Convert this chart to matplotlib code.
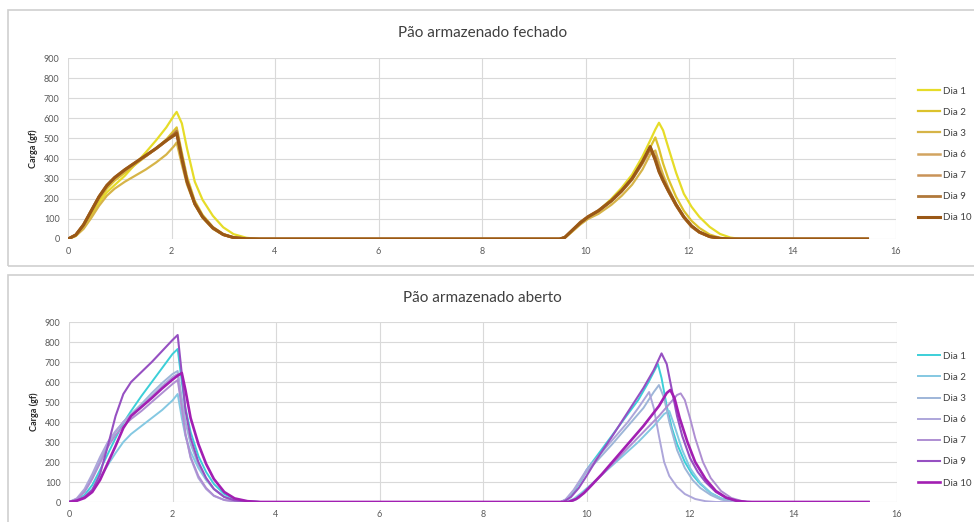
import matplotlib
matplotlib.use("Agg")
import matplotlib.pyplot as plt
from matplotlib.patches import Rectangle

plt.rcParams['font.family'] = ['Lato', 'DejaVu Sans']

LABELS = ["Dia 1", "Dia 2", "Dia 3", "Dia 6", "Dia 7", "Dia 9", "Dia 10"]

# ---------------- Pão armazenado fechado ----------------
FECH_T = [0, 0.15, 0.3, 0.45, 0.6, 0.75, 0.9, 1.1, 1.3, 1.5, 1.7, 1.9, 2.05, 2.1, 2.2, 2.3,
          2.45, 2.6, 2.8, 3.0, 3.2, 3.45, 3.7,
          9.5, 9.6, 9.75, 9.9, 10.05, 10.25, 10.5, 10.7, 10.9, 11.1, 11.25, 11.35, 11.42,
          11.5, 11.6, 11.75, 11.9, 12.05, 12.2, 12.4, 12.6, 12.8, 13.0, 15.45]
FECH_D1 = [0, 15, 55, 115, 180, 232, 268, 315, 372, 430, 490, 555, 615, 632, 575, 450, 285, 195, 115, 58, 24, 6, 0,
           0, 6, 40, 75, 105, 140, 200, 255, 320, 410, 490, 545, 578, 540, 455, 330, 225, 160, 110, 60, 25, 7, 0, 0]
FECH_D2 = [0, 18, 60, 125, 195, 250, 290, 330, 370, 410, 450, 495, 540, 555, 430, 310, 190, 120, 60, 25, 8, 2, 0,
           0, 6, 42, 80, 108, 140, 195, 245, 305, 385, 455, 505, 450, 375, 300, 210, 140, 90, 55, 22, 6, 0, 0, 0]
FECH_D3 = [0, 15, 50, 105, 165, 215, 250, 285, 315, 345, 380, 420, 462, 480, 370, 270, 170, 105, 50, 20, 6, 1, 0,
           0, 5, 38, 72, 100, 125, 170, 215, 270, 345, 420, 440, 380, 320, 255, 175, 110, 65, 35, 12, 3, 0, 0, 0]
FECH_D6 = [0, 20, 68, 138, 208, 262, 300, 340, 378, 413, 450, 490, 525, 540, 410, 290, 178, 112, 55, 22, 7, 1, 0,
           0, 8, 45, 82, 110, 140, 190, 238, 298, 378, 448, 400, 340, 292, 240, 168, 108, 62, 33, 11, 3, 0, 0, 0]
FECH_D7 = [0, 20, 70, 140, 210, 265, 303, 342, 378, 412, 448, 487, 518, 530, 402, 285, 175, 110, 54, 22, 7, 1, 0,
           0, 8, 44, 82, 110, 138, 188, 236, 295, 375, 445, 395, 335, 288, 236, 165, 106, 60, 32, 11, 3, 0, 0, 0]
FECH_D9 = [0, 21, 72, 142, 212, 268, 306, 345, 380, 414, 450, 489, 522, 535, 405, 288, 177, 111, 55, 22, 7, 1, 0,
           0, 8, 45, 84, 112, 142, 192, 242, 302, 382, 455, 405, 345, 296, 244, 172, 110, 64, 34, 12, 3, 0, 0, 0]
FECH_D10 = [0, 20, 70, 140, 210, 265, 305, 345, 380, 415, 450, 490, 515, 525, 400, 285, 175, 110, 55, 22, 7, 1, 0,
            0, 8, 45, 80, 110, 140, 190, 240, 300, 385, 460, 390, 335, 290, 240, 170, 110, 65, 35, 12, 3, 0, 0, 0]
FECH_COLORS = ["#E6DC28", "#DCC22C", "#D6B448", "#D2A460", "#C99358", "#B0783A", "#9A5816"]
FECH_LW = [1.6, 1.6, 1.6, 1.8, 1.8, 2.0, 2.2]

# ---------------- Pão armazenado aberto ----------------
AB_T1 = [0, 0.15, 0.3, 0.45, 0.6, 0.75, 0.9, 1.05, 1.2, 1.4, 1.6, 1.8, 2.0, 2.1, 2.18, 2.25,
         2.35, 2.5, 2.65, 2.8, 3.0, 3.2, 3.45, 3.7]
AB_D1_Y1 = [0, 10, 35, 85, 160, 240, 320, 395, 455, 530, 600, 670, 740, 765, 600, 470, 350, 230, 150, 90, 40, 14, 3, 0]
AB_D2_Y1 = [0, 8, 28, 65, 120, 185, 245, 300, 340, 380, 420, 460, 508, 540, 420, 330, 250, 170, 110, 65, 28, 9, 2, 0]
AB_D3_Y1 = [0, 15, 55, 125, 210, 290, 350, 400, 440, 490, 545, 595, 640, 655, 520, 400, 290, 185, 115, 65, 25, 8, 2, 0]
AB_D6_Y1 = [0, 18, 65, 140, 225, 300, 355, 400, 435, 480, 530, 580, 625, 640, 480, 340, 220, 120, 65, 30, 10, 3, 0, 0]
AB_D7_Y1 = [0, 14, 50, 115, 195, 275, 335, 380, 415, 455, 500, 545, 590, 610, 470, 340, 225, 130, 70, 32, 10, 3, 0, 0]
AB_D9_Y1 = [0, 8, 25, 60, 140, 280, 430, 540, 600, 650, 700, 755, 810, 835, 640, 460, 320, 200, 120, 65, 25, 8, 2, 0]
AB_D10_Y1 = [0, 6, 20, 50, 110, 195, 280, 370, 430, 475, 520, 568, 612, 632, 645, 560, 420, 290, 190, 115, 50, 18, 4, 0]

AB_D1_T2 = [9.5, 9.6, 9.75, 9.9, 10.0, 10.2, 10.4, 10.6, 10.8, 11.0, 11.2, 11.38, 11.45, 11.55, 11.65, 11.75,
            11.9, 12.05, 12.2, 12.4, 12.6, 12.8, 13.0, 15.45]
AB_D1_Y2 = [0, 10, 50, 110, 160, 230, 300, 370, 440, 510, 600, 690, 620, 480, 370, 290, 200, 135, 90, 45, 18, 5, 0, 0]
AB_D2_T2 = [9.6, 9.75, 9.9, 10.1, 10.4, 10.7, 11.0, 11.3, 11.5, 11.6, 11.7, 11.85, 12.0, 12.2, 12.4, 12.6, 12.8, 13.0, 15.45]
AB_D2_Y2 = [0, 15, 45, 90, 160, 230, 300, 380, 440, 455, 380, 260, 170, 95, 45, 18, 5, 0, 0]
AB_D3_T2 = [9.5, 9.6, 9.75, 10.0, 10.2, 10.5, 10.8, 11.1, 11.3, 11.4, 11.5, 11.6, 11.75, 11.9, 12.05, 12.2,
            12.4, 12.6, 12.8, 13.0, 15.45]
AB_D3_Y2 = [0, 12, 55, 150, 205, 290, 380, 470, 550, 585, 520, 400, 260, 170, 110, 70, 35, 12, 3, 0, 0]
AB_D6_T2 = [9.5, 9.6, 9.75, 10.0, 10.2, 10.5, 10.8, 11.0, 11.21, 11.3, 11.4, 11.5, 11.6, 11.75, 11.9, 12.1,
            12.3, 12.5, 15.45]
AB_D6_Y2 = [0, 14, 60, 160, 220, 310, 400, 470, 550, 470, 330, 200, 130, 75, 40, 15, 4, 0, 0]
AB_D7_T2 = [9.7, 9.85, 10.0, 10.2, 10.5, 10.8, 11.1, 11.4, 11.6, 11.75, 11.82, 11.9, 12.0, 12.1, 12.25, 12.4,
            12.6, 12.8, 13.0, 13.2, 15.45]
AB_D7_Y2 = [0, 20, 55, 110, 190, 270, 350, 430, 490, 535, 543, 510, 420, 320, 200, 120, 55, 20, 5, 0, 0]
AB_D9_T2 = [9.55, 9.7, 9.85, 10.0, 10.2, 10.5, 10.8, 11.1, 11.3, 11.45, 11.55, 11.65, 11.75, 11.85, 12.0, 12.15,
            12.3, 12.5, 12.7, 12.9, 13.1, 15.45]
AB_D9_Y2 = [0, 25, 70, 130, 215, 330, 450, 570, 660, 743, 690, 560, 430, 330, 220, 150, 100, 50, 20, 6, 0, 0]
AB_D10_T2 = [9.65, 9.8, 9.95, 10.1, 10.3, 10.5, 10.8, 11.1, 11.4, 11.55, 11.62, 11.7, 11.8, 11.95, 12.1, 12.3,
             12.5, 12.7, 12.9, 13.1, 15.45]
AB_D10_Y2 = [0, 15, 45, 85, 140, 200, 290, 380, 480, 545, 560, 520, 420, 300, 200, 115, 55, 22, 6, 0, 0]
AB_COLORS = ["#3CCFD8", "#84C8E2", "#9EB6D8", "#ADA6DA", "#AE8ED2", "#9650C2", "#A21FB2"]
AB_LW = [1.4, 1.4, 1.4, 1.4, 1.4, 1.5, 1.9]

Y_TICKS = list(range(0, 901, 100))
X_TICKS = list(range(0, 17, 2))

W, H = 974, 522
fig = plt.figure(figsize=(W / 100, H / 100), dpi=100)

# panel frames
for (y0, y1) in [(10, 266), (275, 530)]:
    fig.add_artist(Rectangle((8 / W, 1 - y1 / H), (990 - 8) / W, (y1 - y0) / H,
                             transform=fig.transFigure, fill=False, edgecolor="#CFCFCF", linewidth=1.2))


def style(ax, title, title_y):
    ax.set_xlim(0, 16)
    ax.set_ylim(0, 900)
    ax.set_xticks(X_TICKS)
    ax.set_yticks(Y_TICKS)
    ax.grid(True, color="#D9D9D9", linewidth=0.8)
    ax.set_axisbelow(True)
    for s in ax.spines.values():
        s.set_visible(False)
    ax.tick_params(length=0, labelsize=6.5, labelcolor="#595959", pad=6)
    ax.set_ylabel("Carga (gf)", fontsize=6.5, fontweight="bold", color="#262626", labelpad=4)
    fig.text(0.495, title_y, title, ha="center", va="center", fontsize=11, color="#404040")


ax1 = fig.add_axes([68 / W, 1 - 239 / H, 828 / W, 181 / H])
fech_series = [FECH_D1, FECH_D2, FECH_D3, FECH_D6, FECH_D7, FECH_D9, FECH_D10]
for ys, lab, c, lw in zip(fech_series, LABELS, FECH_COLORS, FECH_LW):
    ax1.plot(FECH_T, ys, color=c, lw=lw, label=lab, solid_joinstyle="round")
style(ax1, "Pão armazenado fechado", 1 - 33 / H)
ax1.legend(loc="center left", bbox_to_anchor=(1.026, 0.467), frameon=False, fontsize=7,
           handlelength=2.3, handletextpad=0.3, labelspacing=1.25, borderpad=0, borderaxespad=0,
           labelcolor="#404040")

ax2 = fig.add_axes([69 / W, 1 - 502 / H, 828 / W, 180 / H])
ab_series = [
    (AB_D1_Y1, AB_D1_T2, AB_D1_Y2), (AB_D2_Y1, AB_D2_T2, AB_D2_Y2), (AB_D3_Y1, AB_D3_T2, AB_D3_Y2),
    (AB_D6_Y1, AB_D6_T2, AB_D6_Y2), (AB_D7_Y1, AB_D7_T2, AB_D7_Y2), (AB_D9_Y1, AB_D9_T2, AB_D9_Y2),
    (AB_D10_Y1, AB_D10_T2, AB_D10_Y2)]
for (y1, t2, y2), lab, c, lw in zip(ab_series, LABELS, AB_COLORS, AB_LW):
    ax2.plot(AB_T1 + t2, y1 + y2, color=c, lw=lw, label=lab, solid_joinstyle="round")
style(ax2, "Pão armazenado aberto", 1 - 298 / H)
ax2.legend(loc="center left", bbox_to_anchor=(1.025, 0.458), frameon=False, fontsize=7,
           handlelength=2.3, handletextpad=0.3, labelspacing=1.25, borderpad=0, borderaxespad=0,
           labelcolor="#404040")

fig.savefig("out.png", dpi=100)
